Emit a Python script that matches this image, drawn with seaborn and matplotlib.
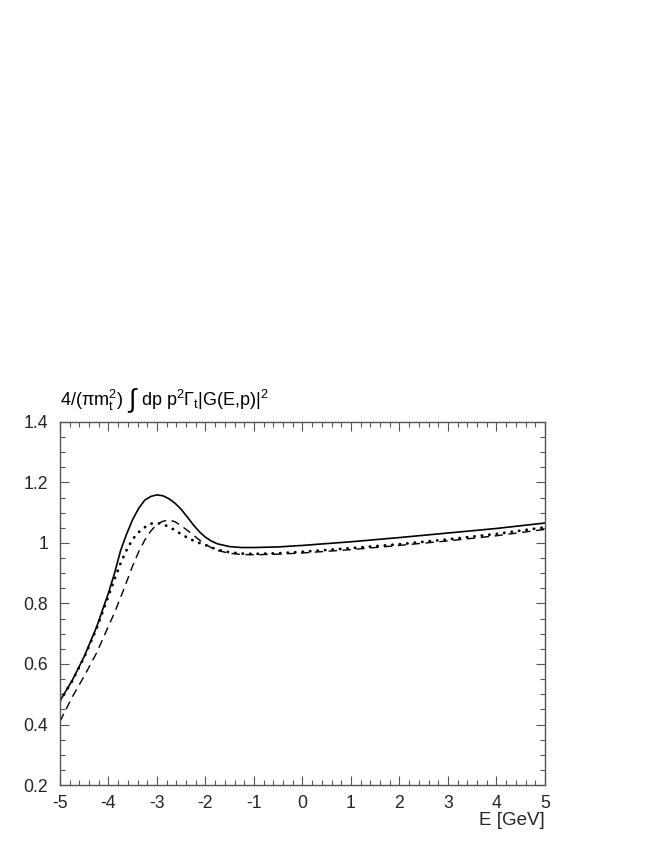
import pandas as pd
import matplotlib
matplotlib.use("Agg")
import matplotlib.pyplot as plt
from matplotlib.ticker import MultipleLocator
from matplotlib.offsetbox import TextArea, HPacker, AnchoredOffsetbox
import seaborn as sns

# Energy grid [GeV] and the three curves
energy = [-5, -4.75, -4.5, -4.25, -4, -3.875, -3.75, -3.625, -3.5, -3.375,
          -3.25, -3.125, -3, -2.875, -2.75, -2.625, -2.5, -2.375, -2.25,
          -2.125, -2, -1.875, -1.75, -1.5, -1.25, -1, -0.5, 0, 1, 2, 3, 4, 5]
solid = [0.478, 0.545, 0.625, 0.72, 0.835, 0.9, 0.975, 1.03, 1.078, 1.115,
         1.142, 1.154, 1.159, 1.156, 1.146, 1.131, 1.111, 1.086, 1.06,
         1.037, 1.019, 1.006, 0.997, 0.988, 0.985, 0.985, 0.987, 0.992,
         1.004, 1.018, 1.033, 1.048, 1.066]
dotted = [0.478, 0.543, 0.622, 0.715, 0.825, 0.88, 0.933, 0.977, 1.013, 1.036,
          1.052, 1.064, 1.066, 1.062, 1.053, 1.042, 1.029, 1.018, 1.008,
          1.0, 0.993, 0.985, 0.978, 0.969, 0.965, 0.964, 0.966, 0.971,
          0.983, 0.996, 1.012, 1.03, 1.052]
dashed = [0.41, 0.49, 0.56, 0.635, 0.725, 0.77, 0.82, 0.872, 0.925, 0.972,
          1.01, 1.04, 1.062, 1.072, 1.076, 1.07, 1.057, 1.042, 1.026,
          1.01, 0.996, 0.984, 0.975, 0.966, 0.962, 0.961, 0.963, 0.967,
          0.978, 0.992, 1.007, 1.024, 1.045]

x_ticks = [-5, -4, -3, -2, -1, 0, 1, 2, 3, 4, 5]
y_ticks = [0.2, 0.4, 0.6, 0.8, 1.0, 1.2, 1.4]
y_labels = ["0.2", "0.4", "0.6", "0.8", "1", "1.2", "1.4"]

df = pd.DataFrame({"E": energy, "solid": solid, "dotted": dotted, "dashed": dashed})

sns.set_theme(style="ticks")
plt.rcParams["font.family"] = ["Liberation Sans", "DejaVu Sans"]
plt.rcParams["mathtext.fontset"] = "custom"
plt.rcParams["mathtext.rm"] = "Liberation Sans"
plt.rcParams["mathtext.it"] = "Liberation Sans:italic"

fig = plt.figure(figsize=(6.54, 8.46), dpi=100)
ax = fig.add_axes([0.0917, 0.0721, 0.7416, 0.4291])

sns.lineplot(data=df, x="E", y="solid", ax=ax, color="black", lw=1.2)
sns.lineplot(data=df, x="E", y="dotted", ax=ax, color="black", lw=2.0,
             linestyle=(0, (0.1, 2.6)), dash_capstyle="round")
sns.lineplot(data=df, x="E", y="dashed", ax=ax, color="black", lw=1.0,
             linestyle=(0, (6, 4)))

ax.set_xlim(-5, 5)
ax.set_ylim(0.2, 1.4)
ax.set_xticks(x_ticks)
ax.set_xticklabels([str(t) for t in x_ticks])
ax.set_yticks(y_ticks)
ax.set_yticklabels(y_labels)
ax.xaxis.set_minor_locator(MultipleLocator(0.2))
ax.yaxis.set_minor_locator(MultipleLocator(0.05))

edge = "#555555"
for s in ax.spines.values():
    s.set_color(edge)
    s.set_linewidth(1.0)
ax.tick_params(which="both", direction="in", top=True, right=True,
               color=edge, width=0.8)
ax.tick_params(which="major", length=6.5, labelsize=12.7)
ax.tick_params(axis="y", which="major", pad=8.5)
ax.tick_params(axis="x", which="major", pad=7)
ax.tick_params(which="minor", length=3.6)

ax.set_xlabel("E [GeV]", fontsize=13.5, loc="right", labelpad=0)
ax.set_ylabel("")

# title built from pieces so the integral sign can be drawn taller
tp = dict(fontsize=13, color="black")
title_parts = [
    TextArea(r"4/(π$\mathregular{m_t^2}$)", textprops=tp),
    TextArea("∫", textprops=dict(fontsize=19, color="black")),
    TextArea(r"dp p$\mathregular{^2}$Γ$\mathregular{_t}$|G(E,p)|$\mathregular{^2}$", textprops=tp),
]
title_box = HPacker(children=title_parts, align="baseline", pad=0, sep=4)
anchored = AnchoredOffsetbox(loc="lower left", child=title_box, pad=0, borderpad=0,
                             frameon=False, bbox_to_anchor=(0, 1.025),
                             bbox_transform=ax.transAxes)
ax.add_artist(anchored)

fig.savefig("out.png", dpi=100)
